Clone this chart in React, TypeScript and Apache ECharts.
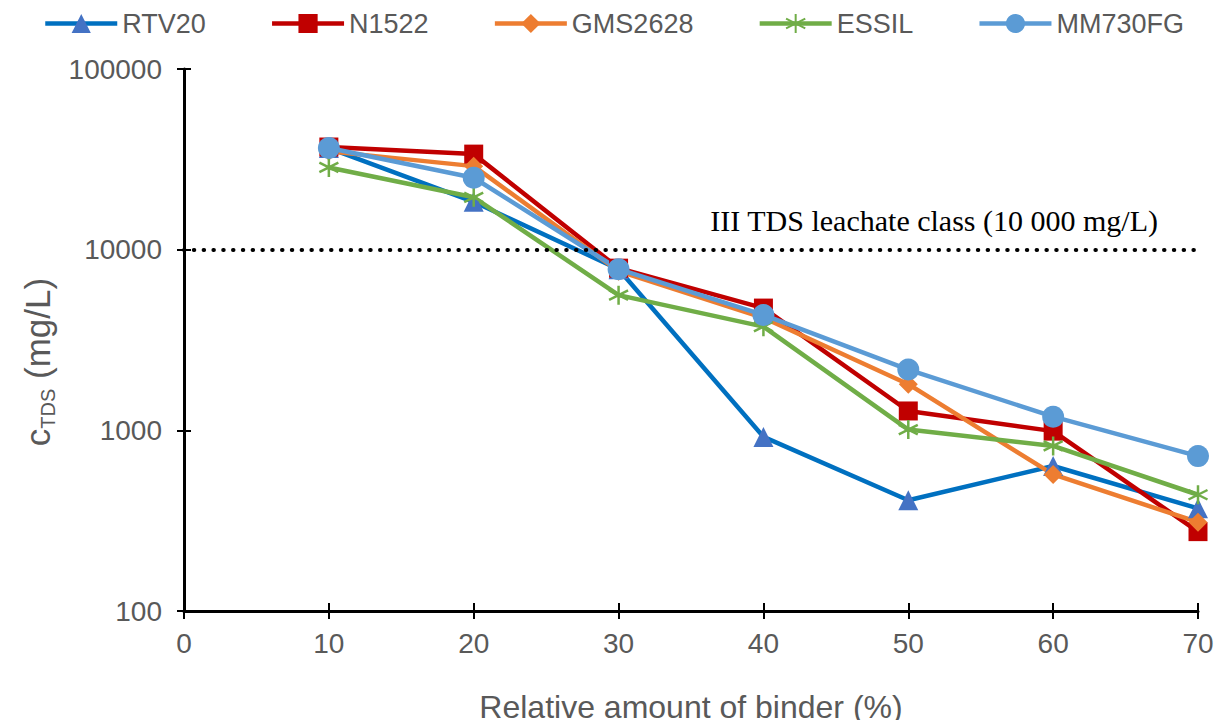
import React, { useEffect, useRef } from "react";
import * as echarts from "echarts";

const binder = [10, 20, 30, 40, 50, 60, 70];
const rtv20 = [36500, 18400, 7800, 920, 410, 635, 370];
const n1522 = [37000, 33800, 7900, 4750, 1280, 990, 275];
const gms2628 = [35000, 29000, 7600, 4200, 1800, 570, 310];
const essil = [28500, 19500, 5600, 3750, 1010, 820, 440];
const mm730fg = [36500, 25000, 7800, 4350, 2170, 1190, 720];
const seriesNames = ["RTV20", "N1522", "GMS2628", "ESSIL", "MM730FG"];
const thresholdValue = 10000;
const thresholdLabel = "III TDS leachate class (10 000 mg/L)";

const ASTERISK = "path://M0,-10L0,10M-8.66,-5L8.66,5M-8.66,5L8.66,-5";

const FONT = "'Liberation Sans', Arial, sans-serif";

export default function App() {
  const ref = useRef<HTMLDivElement>(null);
  useEffect(() => {
    if (!ref.current) return;
    const chart = echarts.init(ref.current, null, { renderer: "svg" });
    const mk = (
      name: string,
      vals: number[],
      lineColor: string,
      markColor: string,
      symbol: string,
      size: number,
      extra: any = {}
    ) => ({
      name,
      type: "line",
      data: binder.map((x, i) => [x, vals[i]]),
      symbol,
      symbolSize: size,
      lineStyle: { color: lineColor, width: 4.5 },
      itemStyle: { color: markColor, ...extra },
      z: 3,
    });
    const series: any[] = [
      mk(seriesNames[0], rtv20, "#0070C0", "#4472C4", "triangle", 20),
      mk(seriesNames[1], n1522, "#C00000", "#C00000", "rect", 19),
      mk(seriesNames[2], gms2628, "#ED7D31", "#ED7D31", "diamond", 19),
      mk(seriesNames[3], essil, "#70AD47", "#70AD47", ASTERISK, 19, {
        borderColor: "#70AD47",
        borderWidth: 2.5,
      }),
      mk(seriesNames[4], mm730fg, "#5B9BD5", "#5B9BD5", "circle", 22),
    ];
    series[0].markLine = {
      silent: true,
      symbol: "none",
      animation: false,
      lineStyle: { color: "#000", width: 4, type: [0.5, 9.3], cap: "round" },
      label: {
        show: true,
        position: "insideEndTop",
        formatter: thresholdLabel,
        fontFamily: "'Liberation Serif', 'Times New Roman', serif",
        fontSize: 30,
        color: "#000",
        distance: [40, 14],
      },
      data: [{ yAxis: thresholdValue }],
    };
    chart.setOption({
      animation: false,
      backgroundColor: "#fff",
      legend: {
        top: 5,
        left: "center",
        itemWidth: 72,
        itemHeight: 24,
        itemGap: 64,
        lineStyle: { width: 4.5 },
        textStyle: { fontFamily: FONT, fontSize: 27, color: "#595959" },
        data: seriesNames,
      },
      grid: { left: 184, right: 29, top: 69, bottom: 116, containLabel: false },
      xAxis: [
        {
          type: "value",
          min: 0,
          max: 70,
          interval: 10,
          name: "Relative amount of binder (%)",
          nameLocation: "middle",
          nameGap: 80,
          nameTextStyle: { fontFamily: FONT, fontSize: 32, color: "#595959" },
          axisLine: { show: true, lineStyle: { color: "#000", width: 3 } },
          axisTick: { show: true, inside: false, length: 8, lineStyle: { color: "#000", width: 2 } },
          axisLabel: { margin: 18, fontFamily: FONT, fontSize: 28, color: "#595959" },
          splitLine: { show: false },
        },
        {
          type: "value",
          min: 0,
          max: 70,
          interval: 10,
          position: "bottom",
          axisLine: { show: false },
          axisTick: { show: true, inside: true, length: 8, lineStyle: { color: "#000", width: 2 } },
          axisLabel: { show: false },
          splitLine: { show: false },
        },
      ],
      yAxis: [
        {
          type: "log",
          logBase: 10,
          min: 100,
          max: 100000,
          name: "{c|c}{s|TDS}{c| (mg/L)}",
          nameLocation: "middle",
          nameGap: 126,
          nameRotate: 90,
          nameTextStyle: {
            fontFamily: FONT,
            color: "#595959",
            padding: [0, 44, 0, 0],
            rich: {
              c: { fontFamily: FONT, fontSize: 35, color: "#595959", lineHeight: 40 },
              s: { fontFamily: FONT, fontSize: 20, color: "#595959", verticalAlign: "bottom", lineHeight: 40, padding: [12, 0, 0, 0] },
            },
          },
          axisLine: { show: true, lineStyle: { color: "#000", width: 3 } },
          axisTick: { show: true, inside: false, length: 7, lineStyle: { color: "#000", width: 2 } },
          axisLabel: {
            margin: 22,
            fontFamily: FONT,
            fontSize: 28,
            color: "#595959",
            formatter: (v: number) => String(Math.round(v)),
          },
          splitLine: { show: false },
          minorTick: { show: false },
        },
        {
          type: "log",
          logBase: 10,
          min: 100,
          max: 100000,
          position: "left",
          axisLine: { show: false },
          axisTick: { show: true, inside: true, length: 7, lineStyle: { color: "#000", width: 2 } },
          axisLabel: { show: false },
          splitLine: { show: false },
        },
      ],
      series,
    });
    return () => chart.dispose();
  }, []);
  return <div ref={ref} style={{ width: 1227, height: 728, margin: -8 }} />;
}
